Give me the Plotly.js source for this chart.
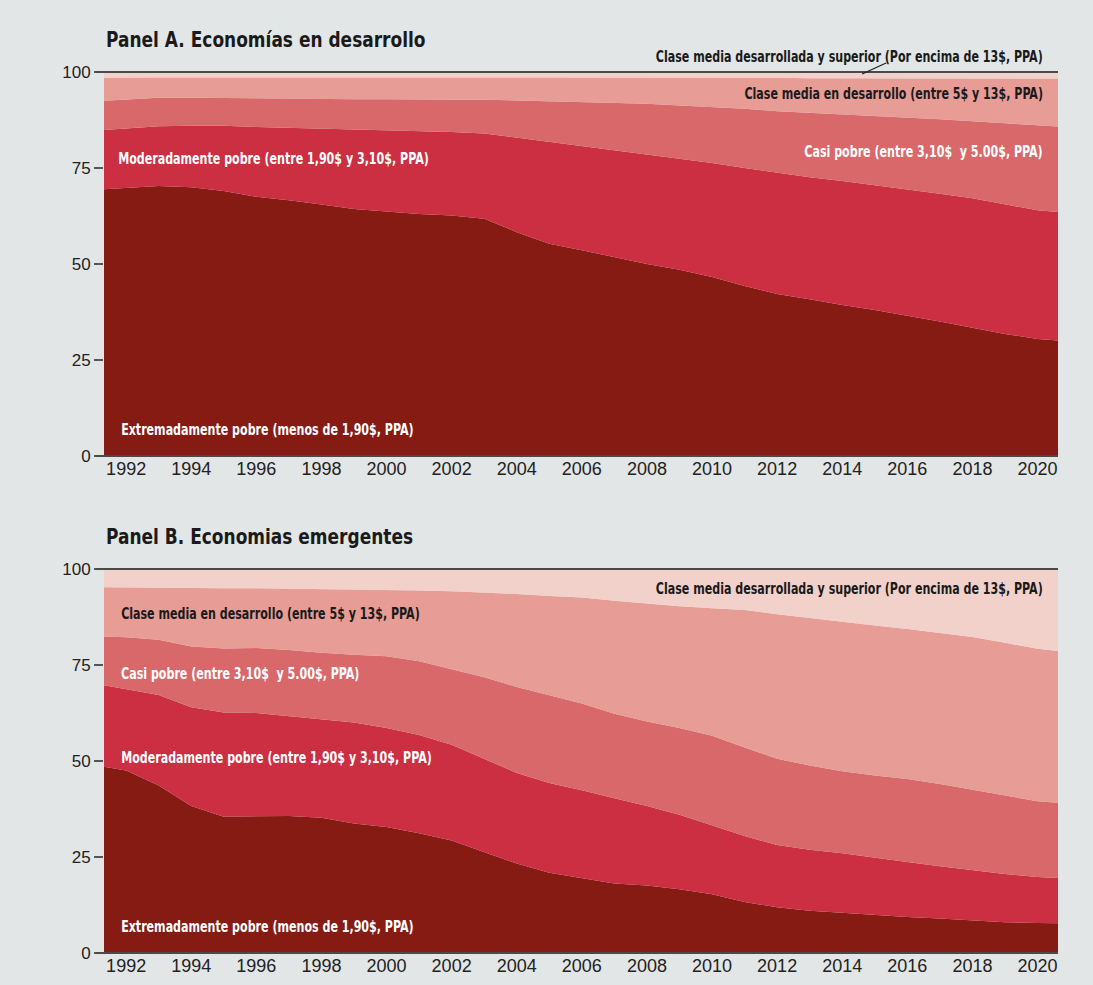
<!DOCTYPE html>
<html>
<head>
<meta charset="utf-8">
<script src="https://cdn.plot.ly/plotly-3.0.1.min.js"></script>
<style>
html,body{margin:0;padding:0;background:#e3e6e6;}
#chart{width:1093px;height:985px;}
</style>
</head>
<body>
<div id="chart"></div>
<script>
// Years (annual)
const years = [1991,1992,1993,1994,1995,1996,1997,1998,1999,2000,2001,2002,2003,2004,2005,2006,2007,2008,2009,2010,2011,2012,2013,2014,2015,2016,2017,2018,2019,2020,2021];
const tickYears = [1992,1994,1996,1998,2000,2002,2004,2006,2008,2010,2012,2014,2016,2018,2020];
const yTicks = [0,25,50,75,100];

// Panel A: Economías en desarrollo (share of workers, %)
const aExtrema   = [69.3,69.8,70.3,70.0,69.0,67.5,66.6,65.5,64.3,63.7,63.0,62.6,61.8,58.3,55.3,53.6,51.8,50.0,48.5,46.6,44.3,42.2,40.8,39.3,38.0,36.6,35.0,33.4,31.8,30.5,29.8];
const aModerada  = [15.4,15.5,15.6,16.0,17.0,18.2,18.9,19.8,20.7,21.2,21.7,21.8,22.2,24.6,26.5,27.2,27.9,28.6,28.9,29.7,30.7,31.5,31.8,32.3,32.5,32.9,33.3,33.7,33.8,33.5,33.5];
const aCasi      = [7.7,7.6,7.4,7.3,7.2,7.4,7.5,7.7,7.9,8.0,8.2,8.5,8.8,9.7,10.6,11.3,12.2,13.1,13.9,14.6,15.4,16.1,16.8,17.4,18.1,18.7,19.4,20.1,21.0,22.0,22.3];
const aMedia     = [6.1,5.7,5.3,5.3,5.4,5.5,5.6,5.6,5.7,5.7,5.7,5.7,5.8,6.0,6.2,6.5,6.7,6.8,7.2,7.6,8.1,8.7,9.0,9.4,9.8,10.2,10.7,11.1,11.7,12.3,12.7];
const aSuperior  = [1.5,1.4,1.4,1.4,1.4,1.4,1.4,1.4,1.4,1.4,1.4,1.4,1.4,1.4,1.4,1.4,1.4,1.5,1.5,1.5,1.5,1.5,1.6,1.6,1.6,1.6,1.6,1.7,1.7,1.7,1.7];

// Panel B: Economías emergentes (share of workers, %)
const bExtrema   = [49.0,47.5,43.6,38.3,35.5,35.6,35.7,35.2,33.7,32.8,31.2,29.3,26.3,23.3,20.9,19.6,18.1,17.6,16.6,15.3,13.3,11.9,11.0,10.5,9.9,9.4,9.0,8.5,8.0,7.8,7.7];
const bModerada  = [21.2,21.3,23.6,25.7,27.1,26.9,26.0,25.7,26.3,25.8,25.6,24.9,24.2,23.6,23.4,22.8,22.2,20.7,19.4,18.0,17.2,16.2,15.9,15.5,14.9,14.3,13.6,13.1,12.6,12.0,11.7];
const bCasi      = [12.3,13.4,14.4,15.8,16.7,16.9,17.2,17.3,17.7,18.7,19.2,19.8,21.3,22.4,22.9,22.6,22.0,22.0,22.6,23.3,23.0,22.5,21.9,21.3,21.4,21.6,21.4,20.9,20.4,19.7,19.5];
const bMedia     = [12.8,13.0,13.5,15.2,15.7,15.6,16.0,16.6,17.0,17.3,18.4,20.2,22.1,24.2,25.8,27.6,29.4,30.7,31.7,33.2,35.8,37.6,38.4,38.9,39.1,39.1,39.4,39.8,39.8,39.7,39.4];
const bSuperior  = [4.7,4.8,4.9,5.0,5.0,5.0,5.1,5.2,5.3,5.4,5.6,5.8,6.1,6.5,7.0,7.4,8.3,9.0,9.7,10.2,10.7,11.8,12.8,13.8,14.7,15.6,16.6,17.7,19.2,20.8,21.7];

const labels = {
  extrema: 'Extremadamente pobre (menos de 1,90$, PPA)',
  moderada: 'Moderadamente pobre (entre 1,90$ y 3,10$, PPA)',
  casi: 'Casi pobre (entre 3,10$  y 5.00$, PPA)',
  media: 'Clase media en desarrollo (entre 5$ y 13$, PPA)',
  superior: 'Clase media desarrollada y superior (Por encima de 13$, PPA)'
};
const colors = ['#861b14','#cc2e42','#d9686a','#e79c96','#f3d1cb'];

function stack(series, xa, ya, grp){
  return series.map((s,i)=>({
    x: years, y: s, type:'scatter', mode:'lines', stackgroup: grp,
    xaxis: xa, yaxis: ya,
    line:{width:0, color:colors[i]}, fillcolor: colors[i],
    hoverinfo:'skip', showlegend:false
  }));
}

const data = [
  ...stack([aExtrema,aModerada,aCasi,aMedia,aSuperior],'x','y','a'),
  ...stack([bExtrema,bModerada,bCasi,bMedia,bSuperior],'x2','y2','b')
];

const H = 985, W = 1093;
const px = v => v / W, py = v => (H - v) / H;
const domX = [px(104), px(1058)];
const domA = [py(456), py(72)];
const domB = [py(953), py(569)];
const xr = [1991.32, 2020.63];

const condFam = 'Liberation Sans Narrow, Arial Narrow, DejaVu Sans Condensed, sans-serif';
const tickFont = {family:'Liberation Sans, Arial, sans-serif', size:17, color:'#222'};
const labFont = (c)=>({family:condFam, size:16, color:c, weight:'bold'});
const titleFont = {family:condFam, size:21, color:'#1a1a1a', weight:'bold'};

function xaxis(anchor){
  return {domain:domX, anchor:anchor, range:xr, tickvals:tickYears, ticks:'', showgrid:false, zeroline:false,
    showline:false, tickfont:{...tickFont, size:18}, automargin:false, fixedrange:true};
}
function yaxis(anchor, dom){
  return {domain:dom, anchor:anchor, range:[0,100], tickvals:yTicks, ticks:'outside', ticklen:9, tickwidth:1.5,
    tickcolor:'#555', showgrid:false, zeroline:false, showline:false, tickfont:tickFont, automargin:false, fixedrange:true};
}

function ann(text, xref, yref, x, y, xanchor, color, font){
  return {text:text, xref:xref, yref:yref, x:x, y:y, xanchor:xanchor, yanchor:'middle', showarrow:false,
    font: font || labFont(color)};
}

const annotations = [
  ann('Panel A. Economías en desarrollo','paper','paper',px(104),py(40),'left',null,titleFont),
  ann('Panel B. Economias emergentes','paper','paper',px(104),py(537),'left',null,titleFont),
  // Panel A labels
  ann(labels.superior,'x','paper',2020.23,py(56),'right','#1a1a1a'),
  ann(labels.media,'x','y',2020.23,94.5,'right','#1a1a1a'),
  ann(labels.casi,'x','y',2020.23,79.4,'right','#ffffff'),
  ann(labels.moderada,'x','y',1991.68,77.6,'left','#ffffff'),
  ann(labels.extrema,'x','y',1991.78,6.8,'left','#ffffff'),
  // Panel B labels
  ann(labels.superior,'x2','y2',2020.23,94.8,'right','#1a1a1a'),
  ann(labels.media,'x2','y2',1991.78,88.3,'left','#1a1a1a'),
  ann(labels.casi,'x2','y2',1991.78,72.7,'left','#ffffff'),
  ann(labels.moderada,'x2','y2',1991.78,51.0,'left','#ffffff'),
  ann(labels.extrema,'x2','y2',1991.78,6.8,'left','#ffffff')
];
// horizontal condensing factor per annotation (to mimic a condensed typeface)
const squeeze = [0.9,0.9,0.77,0.77,0.77,0.77,0.77,0.77,0.77,0.77,0.77,0.77];

const lineStyle = {color:'#4a4a4a', width:2};
const shapes = [
  {type:'line', xref:'paper', yref:'paper', x0:px(96), x1:domX[1], y0:domA[1], y1:domA[1], line:lineStyle},
  {type:'line', xref:'paper', yref:'paper', x0:px(96), x1:domX[1], y0:domA[0], y1:domA[0], line:lineStyle},
  {type:'line', xref:'paper', yref:'paper', x0:px(96), x1:domX[1], y0:domB[1], y1:domB[1], line:lineStyle},
  {type:'line', xref:'paper', yref:'paper', x0:px(96), x1:domX[1], y0:domB[0], y1:domB[0], line:lineStyle},
  // leader line for top label in panel A
  {type:'line', xref:'x', yref:'paper', x0:2014.61, x1:2015.35, y0:py(74), y1:py(63), line:{color:'#222', width:1.3}}
];

const layout = {
  width:W, height:H, margin:{l:0,r:0,t:0,b:0},
  paper_bgcolor:'#e3e6e6', plot_bgcolor:'rgba(0,0,0,0)',
  xaxis: xaxis('y'), yaxis: yaxis('x', domA),
  xaxis2: xaxis('y2'), yaxis2: yaxis('x2', domB),
  annotations: annotations, shapes: shapes, showlegend:false
};

Plotly.newPlot('chart', data, layout, {displayModeBar:false, staticPlot:true}).then(gd => {
  gd.querySelectorAll('.annotation').forEach(g => {
    const i = +g.getAttribute('data-index');
    const s = squeeze[i];
    const t = g.querySelector('text');
    if(!t || !s) return;
    const bb = t.getBBox();
    const ax = annotations[i].xanchor === 'right' ? bb.x + bb.width : bb.x;
    const prev = t.getAttribute('transform') || '';
    t.setAttribute('transform', prev + ` translate(${ax},0) scale(${s},1) translate(${-ax},0)`);
  });
});
</script>
</body>
</html>
